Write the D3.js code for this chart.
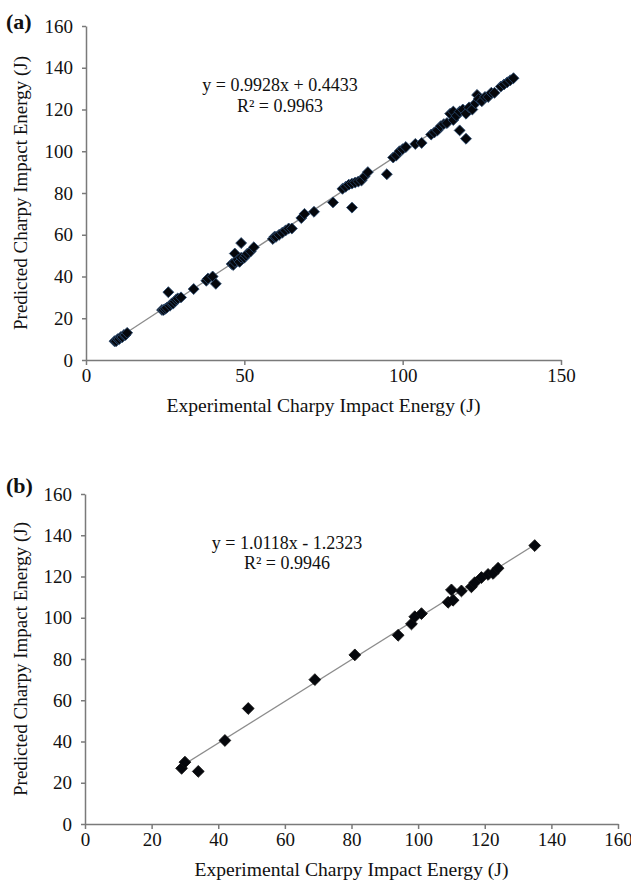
<!DOCTYPE html>
<html>
<head>
<meta charset="utf-8">
<script src="https://cdn.jsdelivr.net/npm/d3@7"></script>
<style>
  body { margin: 0; background: #fff; }
  text { font-family: "Liberation Serif", "Times New Roman", serif; fill: #111; }
</style>
</head>
<body>
<div id="chart"></div>
<script>

// ---- panel (a): all data ----
var expA = [9, 9.5, 10, 10.5, 11, 11.5, 12, 12.5, 13,
    24, 24.5, 25, 25.5, 26, 26.5, 27, 27.5, 28, 28.5, 29, 30,
    34, 38, 38.5, 40, 41,
    46, 46.5, 47, 47, 48, 48.5, 49, 49, 50, 50.5, 51, 52, 53,
    59, 59.5, 60, 61, 62, 63, 64, 65,
    68, 69, 72, 78,
    81, 82, 83, 84, 84, 85, 86, 87, 88, 89,
    95, 97, 98, 99, 100, 101, 104, 106,
    109, 110, 111, 112, 113, 114,
    115, 116, 116, 117, 118, 118, 119, 120, 120, 121, 122,
    123, 123.5, 124, 125, 126, 127, 128, 129,
    131, 132, 133, 134, 135];
var predA = [9, 9, 10, 10, 11, 11, 12, 12, 13,
    24, 24, 24.5, 25, 32.5, 26, 27, 27, 28, 29, 29.5, 30,
    34, 38, 39, 40, 36.5,
    46, 45.5, 47, 51, 48, 47, 49, 56, 49, 50, 51, 52, 54,
    58, 59, 59, 60, 61, 62, 63, 63,
    68, 70, 71, 75.5,
    82, 83, 84, 73, 84.5, 85, 85.5, 86, 88, 90,
    89, 97, 98, 100, 101, 102, 103.5, 104,
    108, 109, 110, 112, 113, 113.5,
    118, 115, 119, 117, 110, 119, 120, 106, 118, 121, 120,
    123, 127, 125, 124, 126, 126, 128, 128,
    131, 132, 133, 134, 135];
var fitA = [0.9928, 0.4433];   // slope, intercept
var xTicksA = [0, 50, 100, 150];

// ---- panel (b): test data ----
var expB = [29, 30, 34, 42, 49, 69, 81, 94, 98, 99, 101, 109, 110, 110.5, 113,
    116, 117, 119, 121, 122.5, 124, 135];
var predB = [27, 30, 25.5, 40.5, 56, 70, 82, 91.5, 97, 100.5, 102, 107.5, 113.5, 108.5, 113,
    115, 117, 119.5, 121, 121.5, 124, 135];
var fitB = [1.0118, -1.2323];
var xTicksB = [0, 20, 40, 60, 80, 100, 120, 140, 160];

var yTicks = [0, 20, 40, 60, 80, 100, 120, 140, 160];

var serif = "'Liberation Serif', 'Times New Roman', serif";

var svg = d3.select("#chart").append("svg")
    .attr("width", 631)
    .attr("height", 884);

function drawPanel(opt) {
    var g = svg.append("g");

    var x = d3.scaleLinear().domain([0, opt.xmax]).range([opt.left, opt.right]);
    var y = d3.scaleLinear().domain([0, 160]).range([opt.bottom, opt.top]);

    // axes
    var ax = g.append("g")
        .attr("transform", "translate(0," + opt.bottom + ")")
        .call(d3.axisBottom(x).tickValues(opt.xticks).tickSize(5).tickSizeOuter(0).tickPadding(4));
    var ay = g.append("g")
        .attr("transform", "translate(" + opt.left + ",0)")
        .call(d3.axisLeft(y).tickValues(yTicks).tickSize(4).tickSizeOuter(0).tickPadding(9));
    [ax, ay].forEach(function(a) {
        a.attr("font-family", serif).attr("font-size", 19);
        a.select(".domain").attr("stroke", "#7a7a7a").attr("stroke-width", 1.5);
        a.selectAll(".tick line").attr("stroke", "#7a7a7a").attr("stroke-width", 1.5);
        a.selectAll(".tick text")
            .attr("fill", "#111")
            .style("font-family", serif)
            .style("font-size", "19px");
    });

    // trend line
    var ext = d3.extent(opt.xs);
    var line = d3.line().x(function(d) { return x(d); })
        .y(function(d) { return y(opt.fit[0] * d + opt.fit[1]); });
    g.append("path")
        .attr("d", line(ext))
        .attr("fill", "none")
        .attr("stroke", "#8c8c8c")
        .attr("stroke-width", 1.3);

    // markers
    var sym = d3.symbol().type(d3.symbolSquare).size(opt.msize);
    g.selectAll(".pt")
        .data(opt.xs.map(function(d, i) { return [d, opt.ys[i]]; }))
        .enter().append("path")
        .attr("class", "pt")
        .attr("d", sym)
        .attr("transform", function(d) {
            return "translate(" + x(d[0]) + "," + y(d[1]) + ") rotate(45)";
        })
        .attr("fill", "#05070c")
        .attr("stroke", opt.edge)
        .attr("stroke-width", 0.8);

    // equation text
    g.append("text")
        .attr("x", opt.eqx).attr("y", y(opt.eqy))
        .attr("text-anchor", "middle")
        .attr("font-size", 18)
        .attr("dominant-baseline", "middle")
        .text(opt.eq);
    g.append("text")
        .attr("x", opt.eqx).attr("y", y(opt.eqy - 10))
        .attr("text-anchor", "middle")
        .attr("font-size", 18)
        .attr("dominant-baseline", "middle")
        .text(opt.r2);

    // axis titles
    g.append("text")
        .attr("x", (opt.left + opt.right) / 2)
        .attr("y", opt.bottom + 52)
        .attr("text-anchor", "middle")
        .attr("font-size", 19)
        .attr("textLength", 314)
        .attr("lengthAdjust", "spacingAndGlyphs")
        .text("Experimental Charpy Impact Energy (J)");
    g.append("text")
        .attr("transform", "translate(" + 27 + "," + (opt.top + opt.bottom) / 2 + ") rotate(-90)")
        .attr("text-anchor", "middle")
        .attr("font-size", 19)
        .text("Predicted Charpy Impact Energy (J)");

    // panel letter
    g.append("text")
        .attr("x", 6).attr("y", opt.tagy)
        .attr("font-size", 22)
        .attr("font-weight", "bold")
        .text(opt.tag);
}

drawPanel({
    tag: "(a)", tagy: 29, xs: expA, ys: predA, fit: fitA, xmax: 150, xticks: xTicksA,
    left: 86, right: 561, top: 26, bottom: 360,
    msize: 60, edge: "#2a4a70",
    eq: "y = 0.9928x + 0.4433", r2: "R\u00b2 = 0.9963", eqx: 280, eqy: 131
});

drawPanel({
    tag: "(b)", tagy: 493, xs: expB, ys: predB, fit: fitB, xmax: 160, xticks: xTicksB,
    left: 85, right: 618, top: 494, bottom: 824,
    msize: 70, edge: "#111",
    eq: "y = 1.0118x - 1.2323", r2: "R\u00b2 = 0.9946", eqx: 287, eqy: 135.5
});

</script>
</body>
</html>
